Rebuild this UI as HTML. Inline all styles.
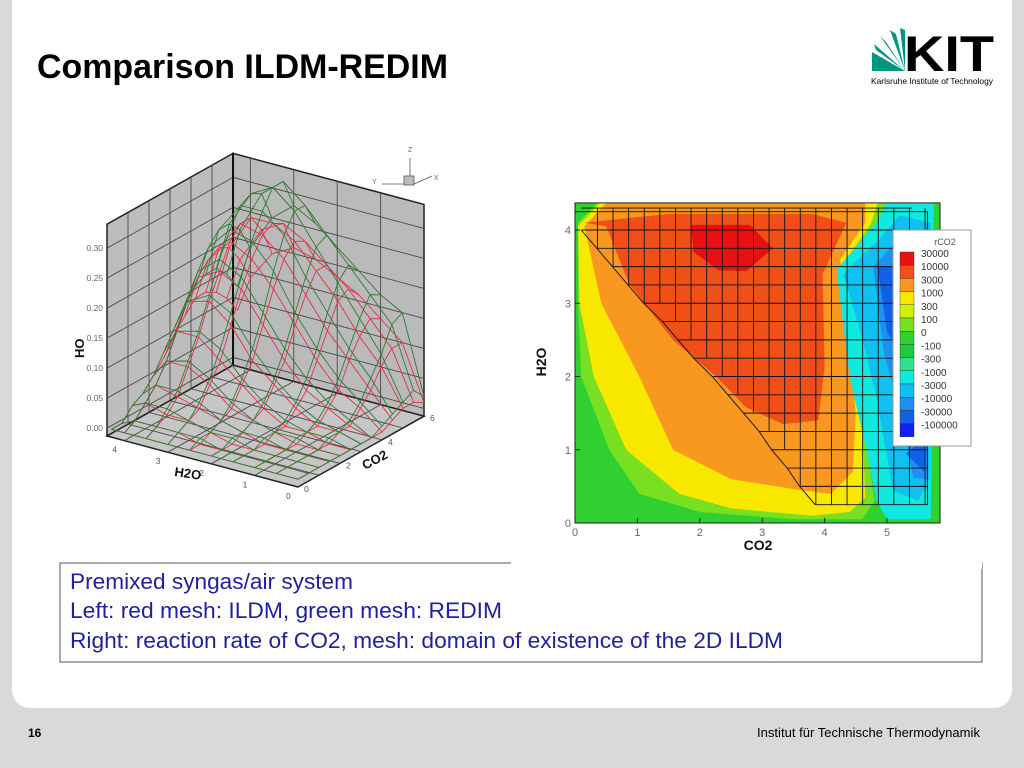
<!DOCTYPE html>
<html><head><meta charset="utf-8"><style>
html,body{margin:0;padding:0;background:#d9d9d9;}
svg{display:block;font-family:"Liberation Sans",sans-serif;}
</style></head><body>
<svg id="s" width="1024" height="768" viewBox="0 0 1024 768" xmlns="http://www.w3.org/2000/svg">
<rect x="0" y="0" width="1024" height="768" fill="#d9d9d9"/>
<rect x="12" y="-20" width="1000" height="728" rx="18" fill="#ffffff"/>
<text x="37" y="78" font-size="34" font-weight="bold" fill="#000" textLength="411" lengthAdjust="spacingAndGlyphs">Comparison ILDM-REDIM</text>
<g>
<g fill="#009682">
<polygon points="905,71 872,52 872,71"/>
<polygon points="905,71 874,44 876,50"/>
<polygon points="905,71 880,36 886,42"/>
<polygon points="905,71 890,30 896,34"/>
<polygon points="905,71 900,28 905,30"/>
</g>
<text x="904" y="71" font-size="50" font-weight="bold" fill="#000" textLength="90" lengthAdjust="spacingAndGlyphs">KIT</text>
<text x="871" y="84" font-size="8.5" fill="#000" textLength="122" lengthAdjust="spacingAndGlyphs">Karlsruhe Institute of Technology</text>
</g>
<g id="left3d"></g>
<g id="right"></g>
<rect x="60" y="563" width="922" height="99" fill="none" stroke="#555" stroke-width="1"/>
<rect x="511" y="556" width="471" height="13" fill="#fff"/>
<g font-size="22.5" fill="#1f1fa0">
<text x="70" y="589" textLength="283" lengthAdjust="spacingAndGlyphs">Premixed syngas/air system</text>
<text x="70" y="618" textLength="432" lengthAdjust="spacingAndGlyphs">Left: red mesh: ILDM, green mesh: REDIM</text>
<text x="70" y="648" textLength="713" lengthAdjust="spacingAndGlyphs">Right: reaction rate of CO2, mesh: domain of existence of the 2D ILDM</text>
</g>
<text x="28" y="737" font-size="12" font-weight="bold" fill="#000">16</text>
<text x="980" y="737" font-size="13" fill="#000" text-anchor="end" textLength="223" lengthAdjust="spacingAndGlyphs">Institut für Technische Thermodynamik</text>
</svg>
<script>
// ---------- LEFT 3D PLOT DATA ----------
const hGrid = [0,0.5,1.0,1.5,2.0,2.5,3.0,3.5,4.0,4.3];
const cGrid = [0,0.5,1,1.5,2,2.5,3,3.5,4,4.5,5,5.5,6];
const zTicks = [0,0.05,0.10,0.15,0.20,0.25,0.30];
const zTickLabels = ["0.00","0.05","0.10","0.15","0.20","0.25","0.30"];
const hTicks = [0,1,2,3,4];
const cTicks = [0,2,4,6];
const greenHO = [
 [0,0,0,0,0,0,0,0,0.01,0.02,0.03,0.04,0.02],
 [0,0,0,0,0,0.01,0.01,0.02,0.04,0.07,0.10,0.14,0.15],
 [0,0,0,0,0.01,0.01,0.02,0.04,0.07,0.11,0.15,0.18,0.17],
 [0,0,0,0.01,0.01,0.02,0.04,0.07,0.11,0.16,0.20,0.22,0.20],
 [0,0,0.01,0.01,0.02,0.04,0.07,0.11,0.16,0.21,0.25,0.26,0.23],
 [0,0.01,0.01,0.02,0.04,0.07,0.11,0.16,0.22,0.27,0.30,0.30,0.26],
 [0,0.01,0.02,0.04,0.07,0.11,0.16,0.21,0.26,0.30,0.33,0.33,0.28],
 [0,0.01,0.03,0.05,0.09,0.13,0.18,0.23,0.27,0.30,0.31,0.30,0.25],
 [0,0.01,0.03,0.05,0.08,0.12,0.16,0.20,0.23,0.25,0.25,0.23,0.19],
 [0,0,0.02,0.03,0.05,0.08,0.11,0.14,0.16,0.17,0.17,0.15,0.12]
];
const redHO = [
 [0,0,0,0,0,0,0,0,0,0.01,0.02,0.02,0.01],
 [0,0,0,0,0,0,0.01,0.01,0.03,0.05,0.08,0.10,0.10],
 [0,0,0,0,0,0.01,0.01,0.03,0.05,0.09,0.12,0.14,0.13],
 [0,0,0,0,0.01,0.01,0.03,0.05,0.09,0.13,0.17,0.18,0.16],
 [0,0,0,0.01,0.02,0.03,0.06,0.09,0.14,0.18,0.21,0.21,0.18],
 [0,0,0.01,0.02,0.03,0.06,0.09,0.14,0.19,0.23,0.25,0.24,0.20],
 [0,0.01,0.02,0.03,0.06,0.09,0.14,0.19,0.23,0.26,0.27,0.26,0.21],
 [0,0.01,0.02,0.04,0.08,0.12,0.17,0.21,0.25,0.27,0.27,0.24,0.19],
 [0,0.01,0.03,0.05,0.08,0.12,0.16,0.19,0.21,0.22,0.21,0.18,0.14],
 [0,0,0.02,0.03,0.05,0.07,0.10,0.12,0.14,0.14,0.13,0.11,0.08]
];
// ---------- RIGHT CONTOUR DATA ----------
const xTicks = [0,1,2,3,4,5];
const yTicks = [0,1,2,3,4];
const legendLevels = ["30000","10000","3000","1000","300","100","0","-100","-300","-1000","-3000","-10000","-30000","-100000"];
const legendColors = ["#e81010","#f05018","#f89820","#f8e800","#d0f000","#78e020","#30d030","#20c840","#30e090","#10e8e0","#10c0f0","#2090f0","#1060e8","#1020f0"];
const regionLightGreen = [[0.35,4.37],[0.05,4.1],[0.05,3.0],[0.1,2.0],[0.55,1.0],[1.03,0.4],[2.0,0.15],[3.5,0.05],[4.6,0.05],[4.8,0.3],[4.65,1.2],[4.55,2.5],[4.45,3.6],[4.9,4.0],[5.0,4.37]];
const regionYellow = [[0.4,4.37],[0.05,4.05],[0.07,3.0],[0.3,2.0],[0.82,1.0],[1.67,0.4],[2.5,0.2],[3.8,0.1],[4.4,0.15],[4.65,0.35],[4.6,1.5],[4.5,2.8],[4.35,3.6],[4.75,4.1],[4.85,4.37]];
const regionOrange = [[0.5,4.37],[0.15,4.05],[0.42,3.0],[1.03,2.0],[1.57,1.0],[2.5,0.6],[3.6,0.45],[4.1,0.4],[4.45,0.7],[4.5,1.5],[4.35,2.8],[4.25,3.6],[4.65,4.1],[4.65,4.37]];
const regionRedOrange = [[0.15,4.1],[0.5,4.05],[0.87,3.26],[1.57,2.5],[2.26,2.0],[2.74,1.58],[3.33,1.35],[3.9,1.4],[4.0,2.13],[3.97,3.4],[4.35,4.1],[3.8,4.22],[1.5,4.22]];
const regionRed = [[1.86,4.07],[2.8,4.07],[3.17,3.75],[2.75,3.44],[2.3,3.45],[1.9,3.7]];
const regionCyan = [[5.0,4.37],[4.83,4.1],[4.19,3.46],[4.4,2.0],[4.67,1.0],[4.83,0.3],[5.0,0.05],[5.7,0.05],[5.75,4.37]];
const regionLightBlue = [[5.2,4.2],[4.9,3.9],[4.3,3.4],[4.61,2.5],[4.83,1.72],[5.1,0.44],[5.5,0.3],[5.68,0.6],[5.7,4.1]];
const regionBlue = [[5.1,3.8],[4.78,3.5],[4.94,2.36],[5.26,1.35],[5.42,0.62],[5.65,0.6],[5.68,3.6]];
const regionDarkBlue = [[4.85,3.5],[5.0,2.6],[5.25,2.3],[5.6,2.8],[5.6,3.5]];
const regionDarkBlue2 = [[5.3,0.95],[5.6,0.7],[5.62,1.15]];
const meshRowsY = [4.3,4.25,4.0,3.75,3.5,3.25,3.0,2.75,2.5,2.25,2.0,1.75,1.5,1.25,1.0,0.75,0.5,0.25];
const meshRowsStart = [0.1,0.0,0.1,0.35,0.6,0.85,1.1,1.4,1.65,1.9,2.2,2.45,2.7,2.95,3.15,3.4,3.6,3.85];
const meshCols = [0.36,0.61,0.86,1.11,1.36,1.61,1.86,2.11,2.36,2.61,2.86,3.11,3.36,3.61,3.86,4.11,4.36,4.61,4.86,5.11,5.36,5.61];
const meshRight = 5.65;

const NS="http://www.w3.org/2000/svg";
function mk(tag,attrs,parent){const e=document.createElementNS(NS,tag);for(const k in attrs)e.setAttribute(k,attrs[k]);parent.appendChild(e);return e;}

const front=[298,487], hv=[-43.4,-11.6], cv=[21.0,-11.8], zs=600, zmin=-0.013, hMax=4.4, cMax=6, zMax=0.34;
function P(h,c,z){return [front[0]+h*hv[0]+c*cv[0], front[1]+h*hv[1]+c*cv[1]-zs*(z-zmin)];}
function ps(a){return a.map(p=>p[0].toFixed(1)+","+p[1].toFixed(1)).join(" ");}
const L=document.getElementById('left3d');
let e;
e=mk('polygon',{points:ps([P(hMax,0,zmin),P(hMax,cMax,zmin),P(hMax,cMax,zMax),P(hMax,0,zMax)]),fill:"#bdbdbd",stroke:"#222","stroke-width":1.5},L);


e=mk('polygon',{points:ps([P(0,cMax,zmin),P(hMax,cMax,zmin),P(hMax,cMax,zMax),P(0,cMax,zMax)]),fill:"#bababa",stroke:"#222","stroke-width":1.5},L);


e=mk('polygon',{points:ps([P(0,0,zmin),P(hMax,0,zmin),P(hMax,cMax,zmin),P(0,cMax,zmin)]),fill:"#c6c6c6",stroke:"#222","stroke-width":1.5},L);


const G=mk('g',{stroke:"#4a4a4a","stroke-width":0.9,fill:"none"},L);


zTicks.forEach(z=>{mk('polyline',{points:ps([P(hMax,0,z),P(hMax,cMax,z),P(0,cMax,z)])},G);});
for(let c=1;c<cMax;c++){mk('polyline',{points:ps([P(0,c,zmin),P(hMax,c,zmin),P(hMax,c,zMax)])},G);}
for(let h=1;h<hMax;h++){mk('polyline',{points:ps([P(h,0,zmin),P(h,cMax,zmin),P(h,cMax,zMax)])},G);}
e=mk('line',{x1:P(hMax,cMax,zmin)[0],y1:P(hMax,cMax,zmin)[1],x2:P(hMax,cMax,zMax)[0],y2:P(hMax,cMax,zMax)[1],stroke:"#111","stroke-width":2},L);


function drawMesh(data,color,name){
 const g=mk('g',{stroke:color,"stroke-width":0.9,fill:"none"},L);
 
 
 data.forEach((row,i)=>{let seg=[];row.forEach((z,j)=>{if(z!==null)seg.push(P(hGrid[i],cGrid[j],z));});if(seg.length>1)mk('polyline',{points:ps(seg)},g);});
 for(let j=0;j<cGrid.length;j++){let seg=[];for(let i=0;i<hGrid.length;i++){const z=data[i][j];if(z!==null)seg.push(P(hGrid[i],cGrid[j],z));}if(seg.length>1)mk('polyline',{points:ps(seg)},g);}
}
drawMesh(redHO,"#e0304a","ildm-red-mesh");
drawMesh(greenHO,"#2f7a34","redim-green-mesh");
zTicks.forEach((z,i)=>{const p=P(hMax,0,z);const t=mk('text',{x:p[0]-4,y:p[1]+3,"font-size":8.5,fill:"#666","text-anchor":"end"},L);t.textContent=zTickLabels[i];

});
hTicks.forEach(h=>{const p=P(h,0,zmin);const t=mk('text',{x:p[0]-12,y:p[1]+12,"font-size":8.5,fill:"#555"},L);t.textContent=h;

});
cTicks.forEach(c=>{const p=P(0,c,zmin);const t=mk('text',{x:p[0]+6,y:p[1]+5,"font-size":8.5,fill:"#555"},L);t.textContent=c;

});
[["HO",84,358,-90,"ho-axis-title"],["H2O",174,476,8,"h2o-axis-title"],["CO2",365,470,-28,"co2-axis-title"]].forEach(a=>{const t=mk('text',{x:a[1],y:a[2],"font-size":13,"font-weight":"bold",fill:"#111",transform:`rotate(${a[3]} ${a[1]} ${a[2]})`},L);t.textContent=a[0];

});
const O=mk('g',{stroke:"#555","stroke-width":0.8,fill:"none"},L);


mk('line',{x1:410,y1:178,x2:410,y2:158},O);mk('line',{x1:410,y1:184,x2:382,y2:184},O);mk('line',{x1:414,y1:184,x2:432,y2:176},O);
mk('rect',{x:404,y:176,width:10,height:9,fill:"#bbb"},O);
[["Z",408,152],["Y",372,184],["X",434,180]].forEach(a=>{const t=mk('text',{x:a[1],y:a[2],"font-size":7,fill:"#666",stroke:"none"},O);t.textContent=a[0];});

const R=document.getElementById('right');
const X0=575,XS=62.4,Y0=523,YS=73.25, xMax=5.85, yMax=4.37;
function sx(v){return X0+v*XS;} function sy(v){return Y0-v*YS;}
function dp(a){return a.map(p=>sx(p[0]).toFixed(1)+","+sy(p[1]).toFixed(1)).join(" ");}
e=mk('rect',{x:sx(0),y:sy(yMax),width:sx(xMax)-sx(0),height:sy(0)-sy(yMax),fill:"#30d030"},R);


[[regionLightGreen,legendColors[5],"region-100"],[regionYellow,legendColors[3],"region-1000"],[regionOrange,legendColors[2],"region-3000"],[regionRedOrange,legendColors[1],"region-10000"],[regionRed,legendColors[0],"region-30000"],[regionCyan,legendColors[9],"region-neg-1000"],[regionLightBlue,legendColors[10],"region-neg-3000"],[regionBlue,legendColors[11],"region-neg-10000"],[regionDarkBlue,legendColors[12],"region-neg-30000"],[regionDarkBlue2,legendColors[12],"region-neg-30000-lower"]].forEach(r=>{
 const el=mk('polygon',{points:dp(r[0]),fill:r[1]},R);
 
 
});
const M=mk('g',{stroke:"#111","stroke-width":0.9,fill:"none"},R);


meshRowsY.forEach((y,i)=>{mk('line',{x1:sx(meshRowsStart[i]),y1:sy(y),x2:sx(i===0?5.4:meshRight),y2:sy(y)},M);});
mk('line',{x1:sx(meshRight),y1:sy(4.25),x2:sx(meshRight),y2:sy(0.25)},M);
mk('polyline',{points:dp(meshRowsY.slice(2).map((y,i)=>[meshRowsStart[i+2],y]))},M);
function lowY(x){let b=0.25;for(let i=2;i<meshRowsY.length;i++){if(meshRowsStart[i]<=x+0.01){b=meshRowsY[i];}}return b;}
meshCols.forEach(x=>{mk('line',{x1:sx(x),y1:sy(4.3),x2:sx(x),y2:sy(lowY(x))},M);});
e=mk('rect',{x:sx(0),y:sy(yMax),width:sx(xMax)-sx(0),height:sy(0)-sy(yMax),fill:"none",stroke:"#222","stroke-width":1},R);


xTicks.forEach(v=>{mk('line',{x1:sx(v),y1:sy(0),x2:sx(v),y2:sy(0)-5,stroke:"#222"},R);const t=mk('text',{x:sx(v),y:sy(0)+13,"font-size":11,fill:"#666","text-anchor":"middle"},R);t.textContent=v;

});
yTicks.forEach(v=>{mk('line',{x1:sx(0),y1:sy(v),x2:sx(0)+5,y2:sy(v),stroke:"#222"},R);const t=mk('text',{x:sx(0)-4,y:sy(v)+4,"font-size":11,fill:"#666","text-anchor":"end"},R);t.textContent=v;

});
let t=mk('text',{x:758,y:550,"font-size":14,"font-weight":"bold",fill:"#111","text-anchor":"middle"},R);t.textContent="CO2";


t=mk('text',{x:546,y:362,"font-size":14,"font-weight":"bold",fill:"#111","text-anchor":"middle",transform:"rotate(-90 546 362)"},R);t.textContent="H2O";


const LG=mk('g',{},R);


mk('rect',{x:893,y:230,width:78,height:216,fill:"#fff",stroke:"#999"},LG);
t=mk('text',{x:945,y:245,"font-size":9,fill:"#555","text-anchor":"middle"},LG);t.textContent="rCO2";
const sh=13.2;
legendLevels.forEach((lv,i)=>{
 const r=mk('rect',{x:900,y:252+i*sh,width:14,height:sh,fill:legendColors[i],stroke:"#333","stroke-width":0.4},LG);
 
 
 const tx=mk('text',{x:921,y:252+i*sh+5,"font-size":10,fill:"#333"},LG);tx.textContent=lv;
 
 
});
</script>
</body></html>
